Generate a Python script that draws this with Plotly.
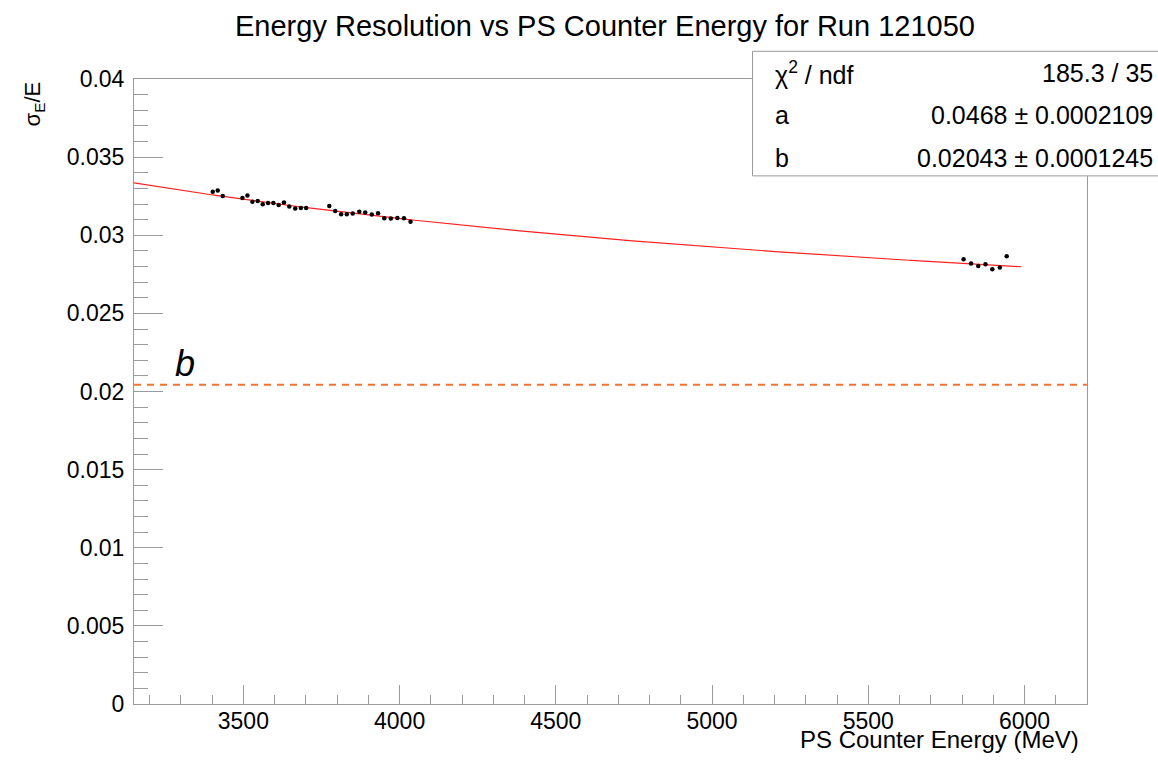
import numpy as np
import plotly.graph_objects as go

# Measured points: PS counter energy (MeV) and relative resolution sigma_E/E
energy_mev = [
    3402, 3418, 3434, 3497, 3513, 3529, 3546, 3562, 3579, 3596,
    3613, 3630, 3647, 3666, 3684, 3701, 3775, 3794, 3813, 3831,
    3850, 3871, 3890, 3911, 3931, 3951, 3972, 3993, 4014, 4035,
    5805, 5829, 5852, 5875, 5897, 5921, 5943,
]
resolution = [
    0.03278, 0.03286, 0.03252, 0.03239, 0.03254, 0.03214, 0.03220, 0.03199, 0.03207, 0.03207,
    0.03194, 0.03210, 0.03184, 0.03171, 0.03175, 0.03175, 0.03188, 0.03156, 0.03135, 0.03135,
    0.03139, 0.03150, 0.03146, 0.03133, 0.03141, 0.03109, 0.03107, 0.03111, 0.03109, 0.03086,
    0.02847, 0.02820, 0.02804, 0.02815, 0.02783, 0.02794, 0.02866,
]

# Fit results: sigma/E = sqrt(a^2 / E[GeV] + b^2)
fit_a, fit_a_err = 0.0468, 0.0002109
fit_b, fit_b_err = 0.02043, 0.0001245
chi2 = 185.3
ndf = len(energy_mev) - 2

x_range = [3150, 6200]
y_range = [0, 0.04]
fit_range = [3150, 5990]

FONT = "Liberation Sans, Arial, Helvetica, sans-serif"
FRAME = "#9a9a9a"

e_fit = np.linspace(fit_range[0], fit_range[1], 300)
res_fit = np.sqrt(fit_a**2 / (e_fit / 1000.0) + fit_b**2)

fig = go.Figure()

# constant term b as a dashed reference line
fig.add_trace(go.Scatter(
    x=x_range, y=[fit_b, fit_b], mode="lines",
    line=dict(color="#f0762f", width=2, dash="7px,6px"),
    hoverinfo="skip", showlegend=False,
))

fig.add_trace(go.Scatter(
    x=e_fit, y=res_fit, mode="lines",
    line=dict(color="#ff2020", width=1.2),
    showlegend=False,
))

fig.add_trace(go.Scatter(
    x=energy_mev, y=resolution, mode="markers",
    marker=dict(color="black", size=4.5),
    showlegend=False,
))

fig.update_xaxes(
    range=x_range, tick0=3500, dtick=500,
    ticks="inside", ticklen=19, tickwidth=1, tickcolor=FRAME,
    minor=dict(dtick=100, tick0=3500, ticks="inside", ticklen=9, tickcolor=FRAME, showgrid=False),
    showline=True, linecolor=FRAME, linewidth=1, mirror=True,
    showgrid=False, zeroline=False,
    tickfont=dict(family=FONT, size=23, color="black"),
    ticklabelstandoff=-4,
)
fig.update_yaxes(
    range=y_range, tick0=0, dtick=0.005,
    ticks="inside", ticklen=29, tickwidth=1, tickcolor=FRAME,
    minor=dict(dtick=0.001, tick0=0, ticks="inside", ticklen=14, tickcolor=FRAME, showgrid=False),
    showline=True, linecolor=FRAME, linewidth=1, mirror=True,
    showgrid=False, zeroline=False,
    tickfont=dict(family=FONT, size=23, color="black"),
    ticklabelstandoff=4,
)

annotations = [
    dict(text="Energy Resolution vs PS Counter Energy for Run 121050",
         xref="paper", yref="paper", x=0.4942, y=1.0843,
         xanchor="center", yanchor="middle", showarrow=False,
         font=dict(family=FONT, size=29, color="black")),
    dict(text="PS Counter Energy (MeV)",
         xref="paper", yref="paper", x=0.9937, y=-0.0575,
         xanchor="right", yanchor="middle", showarrow=False,
         font=dict(family=FONT, size=24, color="black")),
    dict(text="σ<sub>E</sub>/E", textangle=-90,
         xref="paper", yref="paper", x=-0.105, y=1.0,
         xanchor="center", yanchor="top", showarrow=False,
         font=dict(family=FONT, size=22, color="black")),
    dict(text="<i>b</i>",
         xref="x", yref="y", x=3313, y=0.0218,
         xanchor="center", yanchor="middle", showarrow=False,
         font=dict(family=FONT, size=36, color="black")),
]

# statistics box
rows = [
    ("χ<sup>2</sup> / ndf", f"{chi2:.1f} / {ndf}", 1.0099),
    ("a", f"{fit_a:.4f} ± {fit_a_err:.7f}", 0.9420),
    ("b", f"{fit_b:.5f} ± {fit_b_err:.7f}", 0.8733),
]
for label, value, yp in rows:
    annotations.append(dict(text=label, xref="paper", yref="paper", x=0.6705, y=yp,
                            xanchor="left", yanchor="middle", showarrow=False,
                            font=dict(family=FONT, size=25, color="black")))
    annotations.append(dict(text=value, xref="paper", yref="paper", x=1.0714, y=yp,
                            xanchor="right", yanchor="middle", showarrow=False,
                            font=dict(family=FONT, size=25, color="black")))

fig.update_layout(
    width=1158, height=761,
    margin=dict(l=134, r=71, t=79, b=57),
    paper_bgcolor="white", plot_bgcolor="white",
    annotations=annotations,
    shapes=[dict(type="rect", xref="paper", yref="paper",
                 x0=0.649, x1=1.09, y0=0.845, y1=1.0443,
                 line=dict(color=FRAME, width=1), fillcolor="white", layer="above")],
    showlegend=False,
)

fig.write_html("out.html")
